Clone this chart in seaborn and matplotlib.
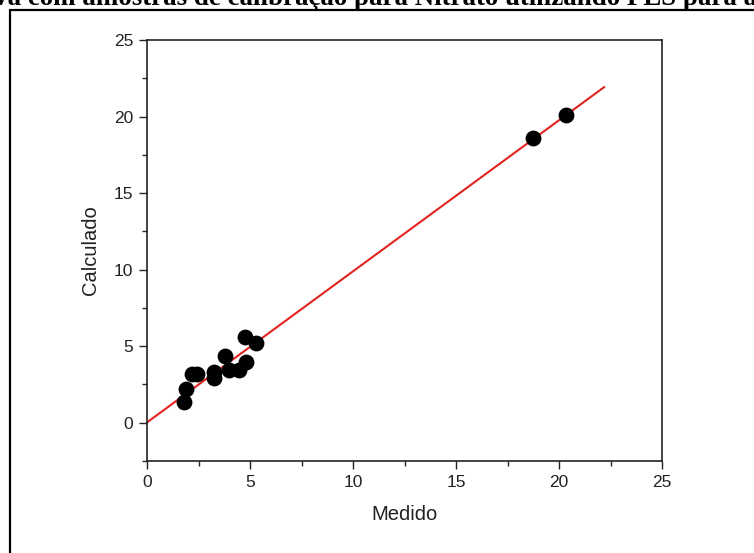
import matplotlib
matplotlib.use("Agg")
import matplotlib.pyplot as plt
import seaborn as sns
import pandas as pd
from matplotlib.lines import Line2D
from matplotlib.ticker import MultipleLocator

# Data
medido = [1.8, 1.9, 2.18, 2.42, 3.23, 3.27, 3.77, 3.96, 4.48, 4.81, 4.74, 5.3, 18.75, 20.32]
calculado = [1.36, 2.2, 3.2, 3.2, 2.9, 3.3, 4.37, 3.44, 3.46, 3.98, 5.61, 5.18, 18.62, 20.08]
fit_x = [0.0, 22.2]
fit_y = [0.02, 21.93]
x_ticks = [0, 5, 10, 15, 20, 25]
y_ticks = [0, 5, 10, 15, 20, 25]
title_text = "Curva com amostras de calibração para Nitrato utilizando PLS para a"

df = pd.DataFrame({"Medido": medido, "Calculado": calculado})
fit = pd.DataFrame({"x": fit_x, "y": fit_y})

sns.set_theme(style="ticks")
plt.rcParams['font.family'] = ['Liberation Sans', 'DejaVu Sans']

W, H = 754, 553
fig = plt.figure(figsize=(W / 100, H / 100), dpi=100)
ax = fig.add_axes([147 / W, 1 - 461 / H, (662 - 147) / W, (461 - 40) / H])

sns.lineplot(data=fit, x="x", y="y", ax=ax, color="#e3231f", linewidth=1.5)
sns.scatterplot(data=df, x="Medido", y="Calculado", ax=ax, color="black",
                s=130, edgecolor="black", linewidth=0, zorder=3)

ax.set_xlim(0, 25)
ax.set_ylim(-2.5, 25)
ax.set_xticks(x_ticks)
ax.set_yticks(y_ticks)
ax.xaxis.set_minor_locator(MultipleLocator(2.5))
ax.yaxis.set_minor_locator(MultipleLocator(2.5))
ax.tick_params(axis="both", which="major", direction="out", length=6, width=1.0,
               labelsize=12.5, colors="#222222", pad=4, top=False, right=False)
ax.tick_params(axis="both", which="minor", direction="out", length=3.5, width=1.0,
               top=False, right=False)
for sp in ax.spines.values():
    sp.set_visible(True)
    sp.set_linewidth(1.2)
    sp.set_color("#222222")
ax.set_xlabel("Medido", fontsize=14.5, color="#222222", labelpad=11)
ax.set_ylabel("Calculado", fontsize=14.5, color="#222222", labelpad=10)

# page frame lines (left and top)
fig.add_artist(Line2D([10 / W, 10 / W], [0, 1 - 9.5 / H], transform=fig.transFigure,
                      color="black", linewidth=1.6))
fig.add_artist(Line2D([10 / W, 1], [1 - 9.5 / H, 1 - 9.5 / H], transform=fig.transFigure,
                      color="black", linewidth=1.6))

fig.text(-52 / W, 1 - 5 / H, title_text, fontsize=19.4, fontweight="bold",
         family=["Liberation Serif", "DejaVu Serif"], ha="left", va="baseline",
         color="black")

fig.savefig("out.png", dpi=100)
